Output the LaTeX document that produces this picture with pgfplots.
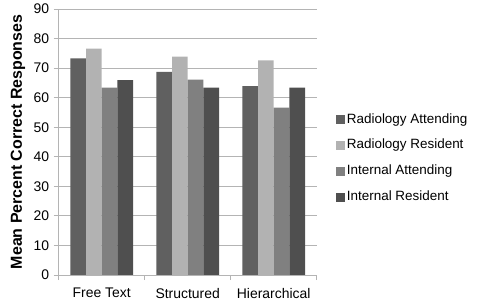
\documentclass[border=0pt]{standalone}
\usepackage{fontspec}
\setmainfont{Liberation Sans}
\usepackage{pgfplots}
\pgfplotsset{compat=1.18}
\definecolor{cRA}{HTML}{606060}
\definecolor{cRR}{HTML}{B2B2B2}
\definecolor{cIA}{HTML}{808080}
\definecolor{cIR}{HTML}{4F4F4F}
\definecolor{gridc}{HTML}{B4B4B4}
\begin{document}
\begin{tikzpicture}
\useasboundingbox (-58.7bp,-29bp) rectangle (419.3bp,275bp);
\begin{axis}[
  at={(0,0)}, anchor=south west,
  scale only axis,
  width=258bp, height=266bp,
  xmin=-0.5, xmax=2.5,
  ymin=0, ymax=90,
  ybar=0pt, bar width=15.7bp,
  axis x line=bottom, axis y line=left,
  axis line style={gridc, line width=0.8pt, -},
  xtick={-0.5,0.5,1.5,2.5},
  x tick label as interval,
  xticklabels={Free Text, Structured, Hierarchical},
  ytick={0,10,...,90},
  ymajorgrids,
  grid style={gridc, line width=0.8pt},
  major tick length=5bp,
  tick align=outside,
  tick style={gridc, line width=0.8pt},
  tick label style={font=\fontsize{14}{14}\selectfont, /pgf/number format/assume math mode=true},
  xticklabel style={yshift=-4.5bp},
  yticklabel style={xshift=-1bp},
  ylabel={Mean Percent Correct Responses},
  ylabel style={at={(axis description cs:0,0.5)}, anchor=center, yshift=40.7bp, font=\bfseries\fontsize{16}{16}\selectfont},
  legend style={draw=none, at={(axis description cs:1,0.439)}, anchor=west, xshift=16bp,
    font=\fontsize{13.5}{14}\selectfont, row sep=9.5bp,
    nodes={text height=10bp, text depth=2.5bp}},
  legend cell align=left,
  legend image code/.code={\fill[#1] (0bp,-4.5bp) rectangle (9bp,4.5bp);},
  every axis plot/.append style={draw=none},
]
\addplot[fill=cRA] coordinates {(0,73.3) (1,68.7) (2,63.9)};
\addplot[fill=cRR] coordinates {(0,76.6) (1,73.9) (2,72.6)};
\addplot[fill=cIA] coordinates {(0,63.4) (1,66.1) (2,56.6)};
\addplot[fill=cIR] coordinates {(0,65.9) (1,63.4) (2,63.4)};
\legend{Radiology Attending, Radiology Resident, Internal Attending, Internal Resident}
\end{axis}
\end{tikzpicture}
\end{document}
